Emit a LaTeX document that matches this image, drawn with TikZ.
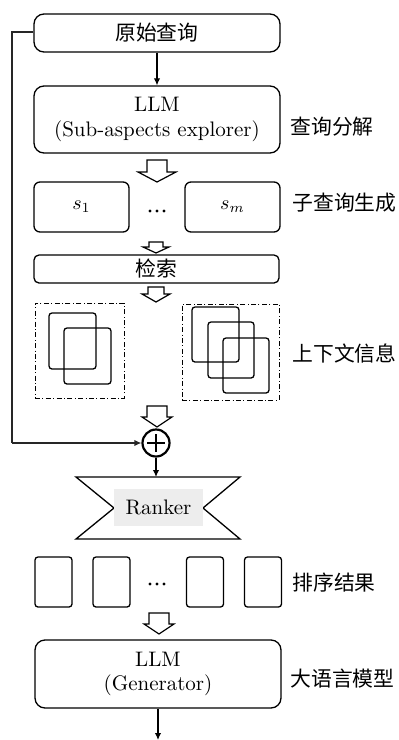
\documentclass[tikz,border=0pt]{standalone}
\usepackage{fontspec}
\newfontfamily\cjk{Noto Sans CJK SC}
\usetikzlibrary{arrows.meta}
\newcommand{\hollowarrow}[6]{%
  \draw[harrow] (#1-#3,#2) -- (#1+#3,#2) -- (#1+#3,#2+#5) -- (#1+#4,#2+#5)
    -- (#1,#2+#5+#6) -- (#1-#4,#2+#5) -- (#1-#3,#2+#5) -- cycle;}
\tikzset{
  box/.style={draw, line width=0.65pt, rounded corners=5pt, inner sep=0pt, align=center,
    font=\fontsize{10.5}{12.2}\selectfont},
  sbox/.style={draw, line width=0.65pt, rounded corners=3pt, inner sep=0pt,
    minimum width=47.5pt, minimum height=25pt},
  rbox/.style={draw, line width=0.65pt, rounded corners=1.5pt, inner sep=0pt,
    minimum width=18.5pt, minimum height=25pt},
  ctx/.style={draw, line width=0.5pt, dash pattern=on 2.5pt off 1.2pt on 0.5pt off 1.2pt, inner sep=0pt},
  doc/.style={draw, line width=0.65pt, rounded corners=1.5pt},
  lab/.style={anchor=west, inner sep=0pt, font=\cjk\fontsize{10.4}{12}\selectfont},
  harrow/.style={draw, line width=0.6pt, fill=white, line join=miter},
  arr/.style={line width=0.6pt, -{Latex[length=3.5pt,width=3.2pt]}},
  dotsnode/.style={inner sep=0pt, minimum size=2pt},
}
\begin{document}
\begin{tikzpicture}[x=0.5pt,y=-0.5pt]
\useasboundingbox (0,0) rectangle (398,740);

% top query
\node[box, minimum width=123pt, minimum height=19pt, font=\cjk\fontsize{10.4}{12}\selectfont] (q) at (157,33) {原始查询};
% LLM sub-aspects explorer
\node[box, minimum width=123pt, minimum height=33.5pt] (llm1) at (157,119.5) {LLM\\(Sub-aspects explorer)};
\node[lab] (l1) at (290,127) {查询分解};
\draw[arr] (q) -- (llm1);

\hollowarrow{157}{160}{10}{19}{12}{10}

% sub-queries
\node[sbox] (s1) at (81.5,207) {$s_1$};
\node[dotsnode] (sdots) at (157,211) {};
\foreach \dx in {-7,0,7} \fill (sdots.center) ++(\dx,0) circle (0.85pt);
\node[sbox] (sm) at (232.5,207) {$s_m$};
\node[lab] (l2) at (292,203) {子查询生成};

\hollowarrow{156}{242}{7}{13}{5}{6}

% retrieval
\node[box, rounded corners=2.5pt, minimum width=122.5pt, minimum height=14pt, font=\cjk\fontsize{10.4}{12}\selectfont] (ret) at (156.5,269) {检索};

\hollowarrow{156}{287}{8}{14}{7}{8}

% contexts
\node[ctx, minimum width=44.5pt, minimum height=47.5pt] (c1) at (79.5,350.5) {};
\draw[doc] (49,313) rectangle (96,369);
\draw[doc] (64,328) rectangle (111,384);
\node[ctx, minimum width=48.5pt, minimum height=48pt] (c2) at (230.5,352) {};
\draw[doc] (192,307) rectangle (239,362);
\draw[doc] (208,322) rectangle (254,378);
\draw[doc] (223,338) rectangle (269,393);
\node[lab] (l3) at (292,354) {上下文信息};

\hollowarrow{157}{406}{10}{15}{11}{10}

% plus
\node[draw, circle, line width=1.1pt, minimum size=13.5pt, inner sep=0pt] (plus) at (156,443) {};
\draw[line width=1.1pt] (plus.center) ++(-9,0) -- ++(18,0);
\draw[line width=1.1pt] (plus.center) ++(0,-9) -- ++(0,18);

\coordinate (lt) at (12,32);
\draw[line width=0.65pt, black!85] (q.west |- lt) -- (lt) -- (lt |- plus);
\draw[arr, black!85] (lt |- plus) -- (plus.west);

% ranker
\draw[line width=0.65pt, line join=miter] (76,477) -- (240,477) -- (203,508) -- (240,539) -- (76,539) -- (114,508) -- cycle;
\node[fill=black!7, minimum width=44.5pt, minimum height=18.5pt, inner sep=0pt, font=\fontsize{10.5}{12}\selectfont] (ranker) at (158.5,507.5) {Ranker};
\coordinate (rtop) at (156,477);
\draw[arr] (plus.south) -- (rtop);

% results
\node[rbox] (r1) at (53.5,582) {};
\node[rbox] (r2) at (111.5,582) {};
\node[dotsnode] (rdots) at (157,584) {};
\foreach \dx in {-7,0,7} \fill (rdots.center) ++(\dx,0) circle (0.85pt);
\node[rbox] (r3) at (205,582) {};
\node[rbox] (r4) at (263,582) {};
\node[lab] (l4) at (292,583) {排序结果};

\hollowarrow{159}{613}{10}{15}{11}{10}

% generator
\node[box, minimum width=123pt, minimum height=34pt] (llm2) at (158,674) {LLM\\(Generator)};
\node[lab] (l5) at (290,679) {大语言模型};
\coordinate (out) at (158,740);
\draw[arr] (llm2) -- (out);
\end{tikzpicture}
\end{document}
